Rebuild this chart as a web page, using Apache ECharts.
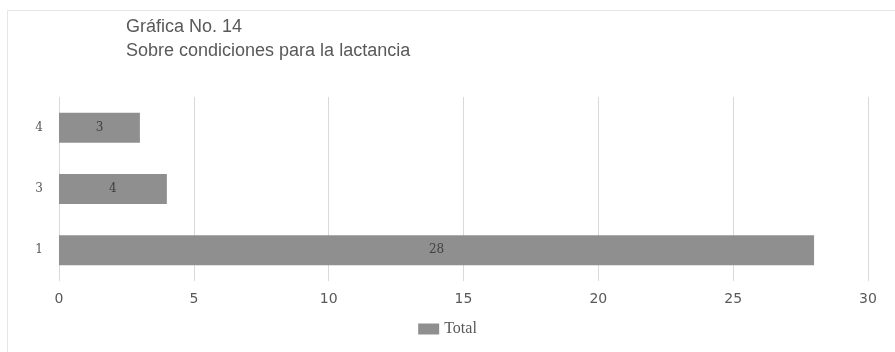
<!DOCTYPE html>
<html>
<head>
<meta charset="utf-8">
<script src="https://cdn.jsdelivr.net/npm/echarts@6/dist/echarts.min.js"></script>
<style>
  html, body { margin: 0; padding: 0; background: #fff; }
  #main { width: 895px; height: 352px; }
</style>
</head>
<body>
<div id="main"></div>
<script>
// datos de la gráfica
const categorias = ['1', '3', '4']
const valores = [28, 4, 3]
const titulo = 'Gráfica No. 14\nSobre condiciones para la lactancia'
const serieNombre = 'Total'

const myChart = echarts.init(document.getElementById('main'))

let option = {
  animation: false,
  backgroundColor: '#fff',
  graphic: [
    {
      type: 'rect',
      shape: { x: 7.5, y: 10.5, width: 895, height: 350 },
      style: { fill: 'none', stroke: '#e6e6e6', lineWidth: 1 },
      silent: true,
    },
  ],
  title: {
    text: titulo,
    left: 121,
    top: 10,
    textStyle: {
      fontFamily: 'Liberation Sans',
      fontSize: 18,
      fontWeight: 'normal',
      color: '#595959',
      lineHeight: 24,
    },
  },
  legend: {
    bottom: 10,
    left: 'center',
    itemWidth: 21,
    itemHeight: 11,
    itemGap: 4,
    icon: 'rect',
    textStyle: { fontFamily: 'Liberation Serif', fontSize: 16, color: '#595959' },
    data: [serieNombre],
  },
  grid: { left: 59, right: 27, top: 97, bottom: 71 },
  xAxis: {
    type: 'value',
    min: 0,
    max: 30,
    interval: 5,
    axisLine: { show: false },
    axisTick: { show: false },
    splitLine: { lineStyle: { color: '#d9d9d9' } },
    axisLabel: { fontFamily: 'DejaVu Sans', fontSize: 14, color: '#595959', margin: 11 },
  },
  yAxis: {
    type: 'category',
    data: categorias,
    axisLine: { show: false },
    axisTick: { show: false },
    axisLabel: { fontFamily: 'DejaVu Serif', fontSize: 12, color: '#595959', margin: 16 },
  },
  series: [
    {
      name: serieNombre,
      type: 'bar',
      data: valores,
      barWidth: 30,
      itemStyle: { color: '#8f8f8f' },
      label: {
        show: true,
        position: 'inside',
        fontFamily: 'DejaVu Serif',
        fontSize: 12,
        color: '#404040',
      },
    },
  ],
}
myChart.setOption(option)
</script>
</body>
</html>
